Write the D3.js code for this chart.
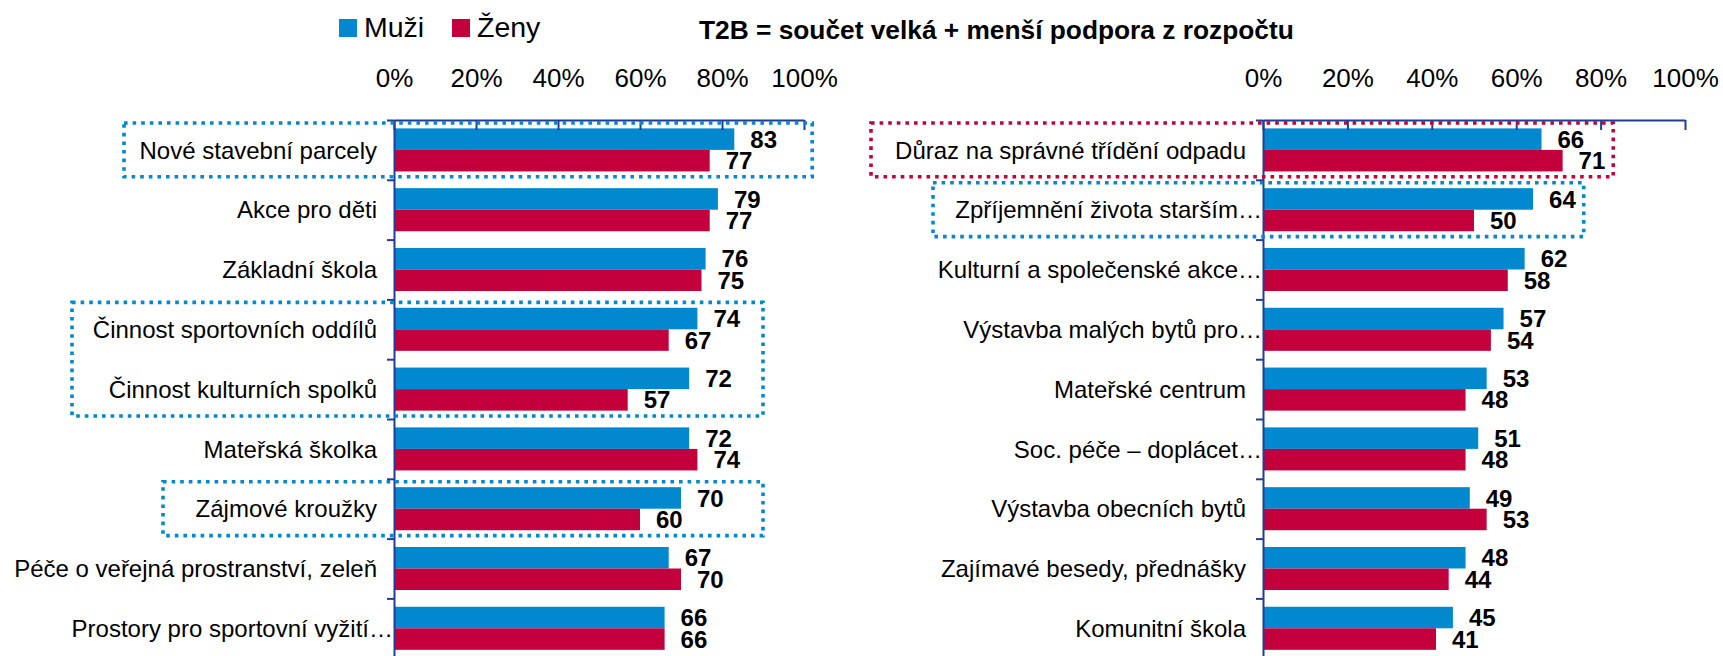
<!DOCTYPE html>
<html>
<head>
<meta charset="utf-8">
<script src="https://cdn.jsdelivr.net/npm/d3@7"></script>
<style>
  body { margin: 0; background: #fff; }
  text { font-family: "Liberation Sans", Arial, sans-serif; fill: #000; }
</style>
</head>
<body>
<div id="chart"></div>
<script>
// data
const seriesNames = ["Muži", "Ženy"];
const seriesColors = ["#0288CE", "#C3003C"];
const xTicks = [0, 20, 40, 60, 80, 100];
const titleText = "T2B = součet velká + menší podpora z rozpočtu";

const leftCategories = [
    "Nové stavební parcely",
    "Akce pro děti",
    "Základní škola",
    "Činnost sportovních oddílů",
    "Činnost kulturních spolků",
    "Mateřská školka",
    "Zájmové kroužky",
    "Péče o veřejná prostranství, zeleň",
    "Prostory pro sportovní vyžití…"
];
const leftMuzi = [83, 79, 76, 74, 72, 72, 70, 67, 66];
const leftZeny = [77, 77, 75, 67, 57, 74, 60, 70, 66];

const rightCategories = [
    "Důraz na správné třídění odpadu",
    "Zpříjemnění života starším…",
    "Kulturní a společenské akce…",
    "Výstavba malých bytů pro…",
    "Mateřské centrum",
    "Soc. péče – doplácet…",
    "Výstavba obecních bytů",
    "Zajímavé besedy, přednášky",
    "Komunitní škola"
];
const rightMuzi = [66, 64, 62, 57, 53, 51, 49, 48, 45];
const rightZeny = [71, 50, 58, 54, 48, 48, 53, 44, 41];

// zvýrazněné rámečky: první a poslední kategorie, pravý okraj v %
const leftBoxes = [
    { from: 0, to: 0, left: -270, right: 102, color: 0 },
    { from: 3, to: 4, left: -322, right: 90, color: 0 },
    { from: 6, to: 6, left: -231, right: 90, color: 0 }
];
const rightBoxes = [
    { from: 0, to: 0, left: -392, right: 83, color: 1 },
    { from: 1, to: 1, left: -330, right: 76, color: 0 }
];

const width = 1723, height = 656;
const axisColor = "#1F3D99";
const plotTop = 120, rowStep = 59.8;

const svg = d3.select("#chart").append("svg")
    .attr("width", width)
    .attr("height", height);

// legenda
const legend = svg.append("g");
[339, 452].forEach((lx, i) => {
    legend.append("rect")
        .attr("x", lx).attr("y", 19)
        .attr("width", 18).attr("height", 18)
        .attr("fill", seriesColors[i]);
    legend.append("text")
        .attr("x", lx + 25).attr("y", 37)
        .style("font-size", "28.5px")
        .text(seriesNames[i]);
});

svg.append("text")
    .attr("x", 699).attr("y", 39)
    .style("font-size", "26.3px")
    .style("font-weight", "bold")
    .text(titleText);

function drawPanel(cats, muzi, zeny, x0, x1, boxes) {
    const n = cats.length;
    const g = svg.append("g");

    const x = d3.scaleLinear().domain([0, 100]).range([x0, x1]);
    const y = d3.scaleBand()
        .domain(cats)
        .range([plotTop, plotTop + n * rowStep])
        .paddingInner(0.28)
        .paddingOuter(0.14);
    const ySub = d3.scaleBand()
        .domain(seriesNames)
        .range([0, y.bandwidth()]);
    const yRow = d3.scaleLinear().domain([0, n]).range([plotTop, plotTop + n * rowStep]);

    const rows = cats.map((c, i) => ({ cat: c, values: [muzi[i], zeny[i]] }));

    // sloupce
    const grp = g.selectAll(".grp")
        .data(rows)
        .enter().append("g")
        .attr("transform", d => `translate(0,${y(d.cat)})`);

    grp.selectAll("rect")
        .data(d => d.values.map((v, k) => ({ v: v, k: k })))
        .enter().append("rect")
        .attr("x", x(0))
        .attr("y", d => ySub(seriesNames[d.k]))
        .attr("width", d => x(d.v) - x(0))
        .attr("height", ySub.bandwidth())
        .attr("fill", d => seriesColors[d.k]);

    grp.selectAll(".val")
        .data(d => d.values.map((v, k) => ({ v: v, k: k })))
        .enter().append("text")
        .attr("class", "val")
        .attr("x", d => x(d.v) + 16)
        .attr("y", d => ySub(seriesNames[d.k]) + ySub.bandwidth() / 2)
        .attr("dy", "0.36em")
        .style("font-size", "24px")
        .style("font-weight", "bold")
        .text(d => d.v);

    // popisky kategorií
    g.selectAll(".cat")
        .data(cats)
        .enter().append("text")
        .attr("class", "cat")
        .attr("x", d => d.endsWith("…") ? x0 - 1 : x0 - 17)
        .attr("y", d => y(d) + y.bandwidth() / 2)
        .attr("dy", "0.36em")
        .attr("text-anchor", "end")
        .style("font-size", "24px")
        .text(d => d);

    // osa x nahoře
    const xAxis = g.append("g")
        .attr("transform", `translate(0,${plotTop})`)
        .call(d3.axisTop(x)
            .tickValues(xTicks)
            .tickFormat(d => d + "%")
            .tickSizeInner(-10)
            .tickSizeOuter(0)
            .tickPadding(33));
    xAxis.selectAll("text")
        .style("font-size", "26px")
        .style("font-family", "'Liberation Sans', Arial, sans-serif")
        .attr("fill", "#000");

    // osa kategorií
    const yAxis = g.append("g")
        .attr("transform", `translate(${x0},0)`)
        .call(d3.axisLeft(yRow)
            .tickValues(d3.range(n + 1))
            .tickFormat("")
            .tickSizeInner(7)
            .tickSizeOuter(0));

    [xAxis, yAxis].forEach(a => {
        a.selectAll("path, line")
            .attr("stroke", axisColor)
            .attr("stroke-width", 2);
    });

    // tečkované rámečky
    g.selectAll(".box")
        .data(boxes)
        .enter().append("rect")
        .attr("class", "box")
        .attr("x", d => x0 + d.left)
        .attr("y", d => yRow(d.from) + 3)
        .attr("width", d => x(d.right) - x0 - d.left)
        .attr("height", d => yRow(d.to + 1) - yRow(d.from) - 6)
        .attr("fill", "none")
        .attr("stroke", d => seriesColors[d.color])
        .attr("stroke-width", 3.6)
        .attr("stroke-dasharray", "3.6,5");
}

drawPanel(leftCategories, leftMuzi, leftZeny, 394, 804, leftBoxes);
drawPanel(rightCategories, rightMuzi, rightZeny, 1263, 1685, rightBoxes);
</script>
</body>
</html>
